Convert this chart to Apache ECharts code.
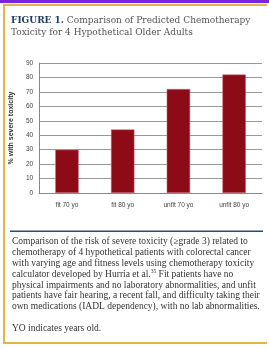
<!DOCTYPE html>
<html>
<head>
<meta charset="utf-8">
<script src="https://cdn.jsdelivr.net/npm/echarts@6/dist/echarts.min.js"></script>
<style>
  html, body { margin: 0; padding: 0; background: #fff; }
  #chart { width: 269px; height: 349px; }
</style>
</head>
<body>
<div id="chart"></div>
<script>
// chart data
var categories = ['fit 70 yo', 'fit 80 yo', 'unfit 70 yo', 'unfit 80 yo'];
var toxicity = [30, 44, 72, 82];
var yTicks = { min: 0, max: 90, interval: 10 };

var captionLines = [
  'Comparison of the risk of severe toxicity (\u2265grade 3) related to',
  'chemotherapy of 4 hypothetical patients with colorectal cancer',
  'with varying age and fitness levels using chemotherapy toxicity',
  'calculator developed by Hurria et al.{sup|35} Fit patients have no',
  'physical impairments and no laboratory abnormalities, and unfit',
  'patients have fair hearing, a recent fall, and difficulty taking their',
  'own medications (IADL dependency), with no lab abnormalities.',
  '',
  'YO indicates years old.'
];

var serif = '"Liberation Serif", "DejaVu Serif", serif';
var wideSerif = '"DejaVu Serif", serif';
var sans = '"Liberation Sans", Arial, sans-serif';

var chart = echarts.init(document.getElementById('chart'));

chart.setOption({
  animation: false,
  backgroundColor: '#fff',
  grid: { left: 37, right: 7, top: 63, bottom: 156 },
  xAxis: {
    type: 'category',
    data: categories,
    axisLine: { lineStyle: { color: '#888', width: 1 } },
    axisTick: { show: false },
    axisLabel: { color: '#444', fontSize: 6.5, fontFamily: sans, margin: 9 }
  },
  yAxis: {
    type: 'value',
    min: yTicks.min,
    max: yTicks.max,
    interval: yTicks.interval,
    name: '% with severe toxicity',
    nameLocation: 'middle',
    nameGap: 19,
    nameTextStyle: { color: '#333', fontSize: 7, fontWeight: 'bold', fontFamily: sans },
    axisLine: { show: true, lineStyle: { color: '#888', width: 1 } },
    axisTick: { show: false },
    axisLabel: { color: '#444', fontSize: 6.5, fontFamily: sans, margin: 6 },
    splitLine: { lineStyle: { color: '#999', width: 1 } }
  },
  series: [{
    type: 'bar',
    data: toxicity,
    barWidth: '42%',
    itemStyle: { color: '#8c0b16', borderColor: '#c9707a', borderWidth: 0.5 }
  }],
  graphic: [
    // purple band across top
    { type: 'rect', shape: { x: 0, y: 0, width: 269, height: 3 }, style: { fill: '#7b22de' }, silent: true },
    // gold frame: top, left, bottom (open on the right)
    {
      type: 'polyline', silent: true,
      shape: { points: [[267, 5], [4, 5], [4, 343], [267, 343]] },
      style: { stroke: '#e3b546', lineWidth: 2, fill: null }
    },
    // title
    {
      type: 'text', left: 11, top: 15,
      style: {
        text: '{b|FIGURE 1.} Comparison of Predicted Chemotherapy\nToxicity for 4 Hypothetical Older Adults',
        fill: '#555', font: '9px ' + wideSerif, lineHeight: 11.5,
        rich: { b: { fill: '#1f3a63', fontWeight: 'bold', fontSize: 9, fontFamily: wideSerif, lineHeight: 11.5 } }
      }
    },
    // divider above caption
    { type: 'rect', shape: { x: 10, y: 230.5, width: 253, height: 1.5 }, style: { fill: '#2b4a74' }, silent: true },
    // caption
    {
      type: 'text', left: 12, top: 236.5,
      style: {
        text: captionLines.join('\n'),
        fill: '#333', font: '9.5px ' + serif, lineHeight: 10.8,
        rich: { sup: { fontSize: 5.5, verticalAlign: 'top', fontFamily: serif, fill: '#333', lineHeight: 10.8 } }
      }
    }
  ]
});
</script>
</body>
</html>
